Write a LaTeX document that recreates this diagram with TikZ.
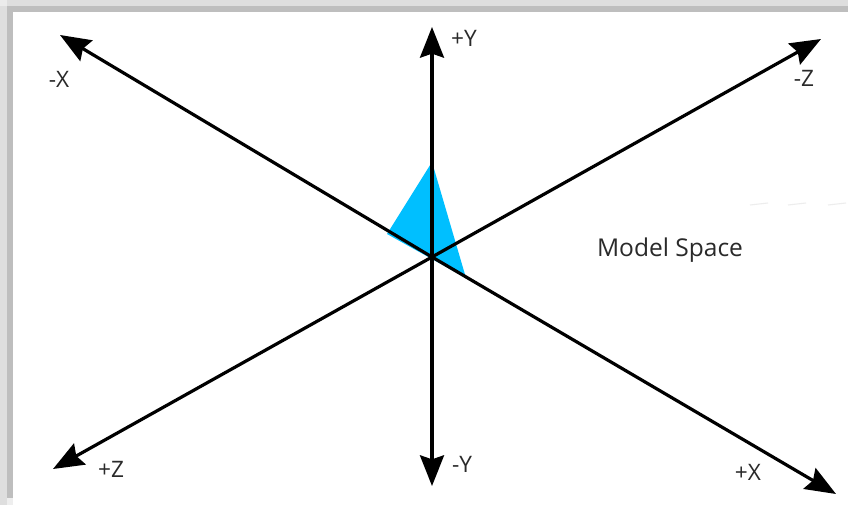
\documentclass[tikz,border=0pt]{standalone}
\usepackage{fontspec}
\setmainfont{Open Sans}
\usetikzlibrary{arrows.meta}
\definecolor{bandlight}{HTML}{DEDEDE}
\definecolor{banddark}{HTML}{BEBEBE}
\definecolor{tricyan}{HTML}{00BFFF}
\definecolor{labelgray}{HTML}{2A2A2A}
\tikzset{
  axisline/.style={line width=2.4pt,black,-{Stealth[length=23pt,width=18pt,inset=3pt]}},
  axislabel/.style={text=labelgray,font=\fontsize{17pt}{20pt}\selectfont,inner sep=0pt,anchor=center},
  faintdash/.style={draw=black!7,line width=0.8pt}
}
\begin{document}
\begin{tikzpicture}[x=0.75pt,y=-0.75pt]
\useasboundingbox (0,0) rectangle (848,505);
\fill[white] (0,0) rectangle (848,505);
% window-shadow bands
\fill[bandlight] (0,0) rectangle (848,6);
\fill[banddark] (13,6) rectangle (848,12);
\fill[bandlight] (0,0) rectangle (7,505);
\fill[banddark] (7,6) rectangle (13,498);
\fill[bandlight!60] (0,0) rectangle (7,6);
\fill[bandlight!50] (7,498) rectangle (13,505);
% faint dashes
\draw[faintdash] (750,205) -- (768,203);
\draw[faintdash] (788,205) -- (806,203);
\draw[faintdash] (828,205) -- (846,203);
% triangle
\coordinate (o) at (432,257);
\coordinate (apex) at (432,162);
\coordinate (tleft) at (387,234);
\coordinate (tright) at (466,278);
\fill[tricyan] (apex) -- (tleft) -- (tright) -- cycle;
% axis ends
\coordinate (mx) at (60,35);
\coordinate (px) at (836,494);
\coordinate (mz) at (821,39);
\coordinate (pz) at (53,469);
\coordinate (py) at (432,27);
\coordinate (my) at (432,486);
\draw[axisline] (o) -- (mx);
\draw[axisline] (o) -- (px);
\draw[axisline] (o) -- (mz);
\draw[axisline] (o) -- (pz);
\draw[axisline] (o) -- (py);
\draw[axisline] (o) -- (my);
% labels
\node[axislabel] (lmx) at (59,79) {-X};
\node[axislabel] (lpx) at (748,472) {+X};
\node[axislabel] (lmz) at (804,78) {-Z};
\node[axislabel] (lpz) at (111,469) {+Z};
\node[axislabel] (lpy) at (464,38) {+Y};
\node[axislabel] (lmy) at (462,464) {-Y};
\node[axislabel,font=\fontsize{18.4pt}{22pt}\selectfont] (ms) at (670,250) {Model Space};
\end{tikzpicture}
\end{document}
